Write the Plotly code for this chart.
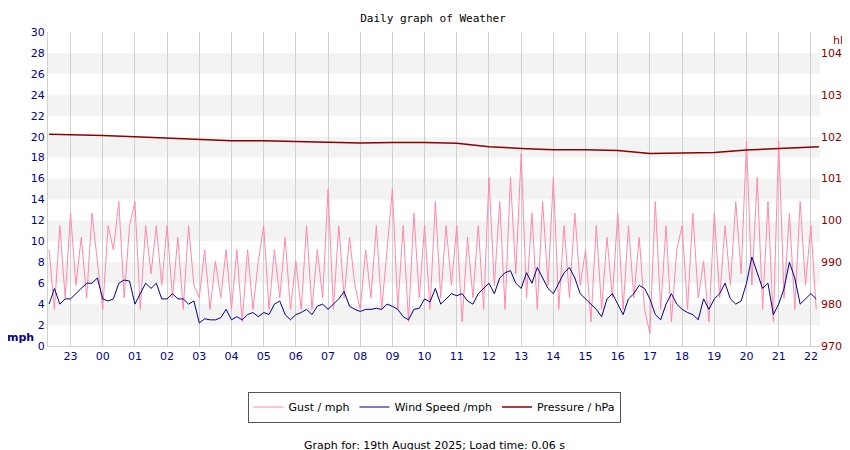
import plotly.graph_objects as go
import pandas as pd

times = pd.date_range("2025-08-18 22:20", periods=144, freq="10min")

wind_mph = [
    4.0, 5.5, 4.0, 4.5,
    4.5, 5.0, 5.5, 6.0, 6.0, 6.5,
    4.5, 4.3, 4.5, 6.0, 6.3, 6.2,
    4.0, 5.0, 6.0, 5.5, 6.0, 4.5,
    4.5, 5.0, 4.5, 4.5, 4.0, 4.3,
    2.2, 2.6, 2.5, 2.5, 2.7, 3.5,
    2.5, 2.8, 2.5, 3.0, 3.2, 2.8,
    3.2, 3.0, 4.0, 4.3, 3.0, 2.5,
    3.0, 3.2, 3.5, 3.0, 3.8, 4.0,
    3.5, 4.0, 4.5, 5.2, 3.8, 3.5,
    3.3, 3.5, 3.5, 3.6, 3.5, 4.0,
    3.8, 3.5, 2.8, 2.5, 3.5, 3.6,
    4.5, 4.2, 5.5, 4.0, 4.5, 5.0,
    4.8, 5.0, 4.3, 4.0, 5.0, 5.5,
    6.0, 5.0, 6.5, 7.0, 7.2, 6.0,
    5.5, 7.0, 6.0, 7.5, 6.5, 5.5,
    5.0, 6.0, 7.0, 7.5, 6.5, 5.0,
    4.5, 4.0, 3.5, 2.8, 4.5, 5.0,
    4.0, 3.0, 4.5, 5.0, 5.8, 5.5,
    4.5, 3.0, 2.5, 4.0, 5.0, 4.0,
    3.5, 3.2, 3.0, 2.5, 4.5, 3.5,
    4.5, 5.0, 6.0, 4.5, 4.0, 4.3,
    6.0, 8.5, 7.0, 5.5, 6.0, 3.0,
    4.0, 5.5, 8.0, 6.5, 4.0, 4.5,
    5.0, 4.5,
]

gust_mph = [
    9.2, 3.5, 11.5, 4.6,
    12.7, 5.8, 10.4, 4.6, 12.7, 8.1,
    3.5, 11.5, 9.2, 13.8, 4.6, 11.5,
    13.8, 3.5, 11.5, 6.9, 11.5, 5.8,
    11.5, 4.6, 10.4, 3.5, 11.5, 5.8,
    4.6, 9.2, 3.5, 8.1, 4.6, 9.2,
    3.5, 9.2, 2.3, 9.2, 3.5, 8.1,
    11.5, 3.5, 9.2, 4.6, 10.4, 3.5,
    8.1, 3.5, 11.5, 3.5, 9.2, 4.6,
    15.0, 3.5, 11.5, 4.6, 10.4, 5.8,
    3.5, 9.2, 4.6, 11.5, 3.5, 9.2,
    15.0, 3.5, 11.5, 2.3, 12.7, 4.6,
    11.5, 3.5, 13.8, 4.6, 11.5, 5.8,
    11.5, 2.3, 10.4, 4.6, 11.5, 3.5,
    16.1, 5.8, 13.8, 3.5, 16.1, 6.9,
    18.4, 4.6, 12.7, 3.5, 13.8, 5.8,
    16.1, 3.5, 11.5, 4.6, 12.7, 5.8,
    9.2, 2.3, 11.5, 3.5, 10.4, 4.6,
    12.7, 3.5, 11.5, 4.6, 10.4, 3.5,
    1.2, 13.8, 3.5, 11.5, 2.3, 9.2,
    11.5, 3.5, 12.7, 4.6, 8.1, 2.3,
    12.7, 4.6, 11.5, 5.8, 13.8, 6.9,
    19.6, 5.8, 16.1, 3.5, 13.8, 2.3,
    19.6, 4.6, 12.7, 3.5, 13.8, 5.8,
    11.5, 3.5,
]

pressure_times = pd.to_datetime(
    ["2025-08-18 22:20", "2025-08-18 23:00"] +
    [f"2025-08-19 {h:02d}:00" for h in range(0, 23)] + ["2025-08-19 22:15"])
pressure_hpa = [1020.6, 1020.5, 1020.3, 1020.0, 1019.7, 1019.3, 1019.0, 1019.0,
                1018.8, 1018.7, 1018.5, 1018.6, 1018.6, 1018.4, 1017.6, 1017.2,
                1016.9, 1016.9, 1016.7, 1016.0, 1016.1, 1016.2, 1016.8, 1017.1,
                1017.5, 1017.6]

hour_ticks = pd.date_range("2025-08-18 23:00", "2025-08-19 22:00", freq="1h")
hour_labels = [t.strftime("%H") for t in hour_ticks]

fig = go.Figure()
fig.add_trace(go.Scatter(x=times, y=wind_mph, name="Wind Speed /mph", mode="lines",
                         line=dict(color="#00008b", width=1)))
fig.add_trace(go.Scatter(x=times, y=gust_mph, name="Gust / mph", mode="lines",
                         line=dict(color="#ff88aa", width=1)))
fig.add_trace(go.Scatter(x=pressure_times, y=pressure_hpa, name="Pressure / hPa",
                         mode="lines", line=dict(color="#8b0000", width=1.5), yaxis="y2"))
# draw wind on top of gust
fig.data = (fig.data[1], fig.data[0], fig.data[2])

shapes = []
for lo in range(2, 30, 4):
    shapes.append(dict(type="rect", xref="paper", x0=0, x1=1, yref="y", y0=lo, y1=lo + 2,
                       fillcolor="#f3f3f3", line=dict(width=0), layer="below"))

fig.update_layout(
    width=850, height=450,
    margin=dict(l=40, r=38, t=24, b=112, autoexpand=False),
    paper_bgcolor="white", plot_bgcolor="white",
    font=dict(family="DejaVu Sans", size=11, color="black"),
    title=dict(text="Daily graph of Weather", x=0.5, xanchor="center", y=0.985, yanchor="top",
               font=dict(family="DejaVu Sans Mono", size=11, color="black")),
    shapes=shapes,
    xaxis=dict(range=[pd.Timestamp("2025-08-18 22:18"), pd.Timestamp("2025-08-19 22:17")],
               tickvals=hour_ticks, ticktext=hour_labels, showgrid=True, gridcolor="#d0d0d0",
               tickfont=dict(color="#00008b", size=11), ticks="", zeroline=False,
               showline=True, linecolor="#d0d0d0", automargin=False),
    yaxis=dict(range=[0, 30], dtick=2, showgrid=False, zeroline=False, automargin=False,
               tickfont=dict(color="#00008b", size=11), showline=True, linecolor="#d0d0d0"),
    yaxis2=dict(range=[970, 1045], tickvals=[970, 980, 990, 1000, 1010, 1020, 1030, 1040],
                overlaying="y", side="right", showgrid=False, zeroline=False, automargin=False,
                tickfont=dict(color="#8b0000", size=11)),
    legend=dict(orientation="h", x=0.5, xanchor="center", y=-0.145, yanchor="top",
                bordercolor="#555", borderwidth=1, font=dict(size=11),
                traceorder="normal"),
    annotations=[
        dict(text="<b>mph</b>", xref="paper", yref="paper", x=-0.036, y=0.0, xanchor="center",
             yanchor="bottom", showarrow=False, font=dict(color="#00008b", size=11)),
        dict(text="hPa", xref="paper", yref="paper", x=1.03, y=1.0, xanchor="center",
             yanchor="top", showarrow=False, font=dict(color="#8b0000", size=11)),
        dict(text="Graph for: 19th August 2025; Load time: 0.06 s", xref="paper", yref="paper",
             x=0.5, y=-0.318, xanchor="center", yanchor="middle", showarrow=False,
             font=dict(size=11, color="black")),
    ],
)
fig.write_html("out.html")
